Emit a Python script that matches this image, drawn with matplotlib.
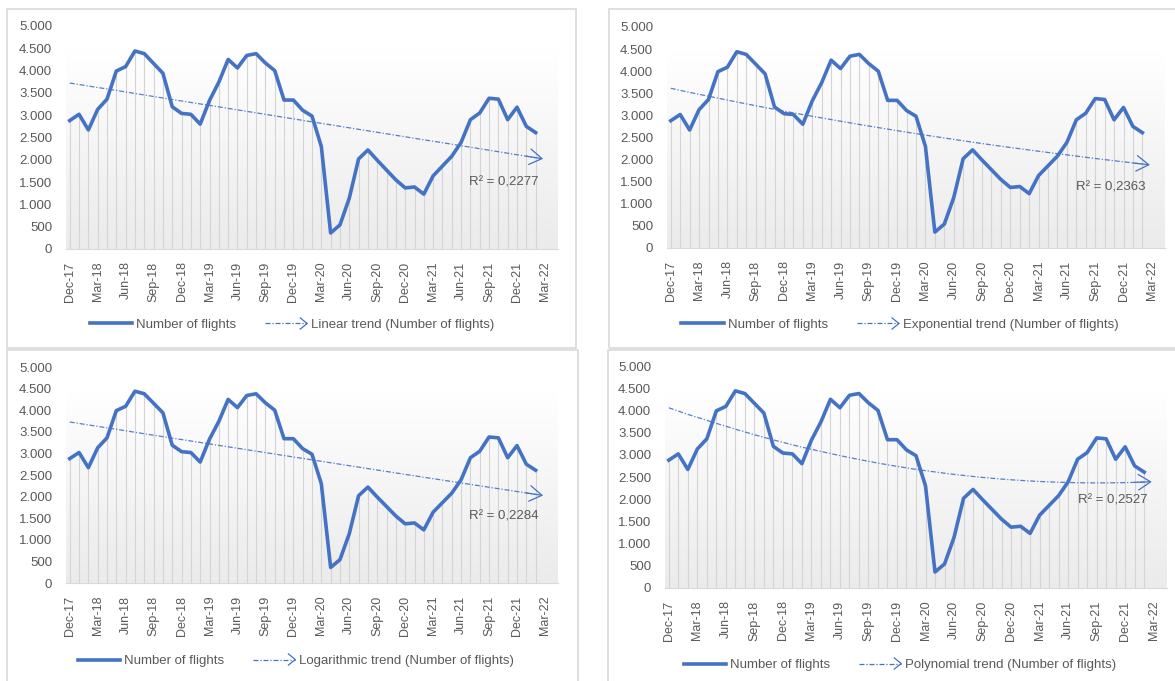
import numpy as np
import pandas as pd
import matplotlib
matplotlib.use('Agg')
import matplotlib.pyplot as plt
from matplotlib.lines import Line2D
from matplotlib.patches import Rectangle
from matplotlib.legend_handler import HandlerBase
from matplotlib.colors import LinearSegmentedColormap
from matplotlib.ticker import FuncFormatter

plt.rcParams['font.family'] = ['Liberation Sans', 'DejaVu Sans']

# monthly number of flights, Dec-17 .. Feb-22
flights = [2880, 3020, 2670, 3130, 3360, 3990, 4090, 4440, 4380, 4160, 3940, 3190,
           3040, 3020, 2800, 3330, 3740, 4250, 4060, 4340, 4380, 4170, 4000, 3340,
           3340, 3110, 2980, 2300, 360, 540, 1140, 2020, 2220, 1990, 1770, 1550,
           1370, 1390, 1230, 1640, 1860, 2080, 2390, 2900, 3050, 3380, 3360, 2900,
           3180, 2750, 2610]
tick_labels = ['Dec-17', 'Mar-18', 'Jun-18', 'Sep-18', 'Dec-18', 'Mar-19', 'Jun-19',
               'Sep-19', 'Dec-19', 'Mar-20', 'Jun-20', 'Sep-20', 'Dec-20', 'Mar-21',
               'Jun-21', 'Sep-21', 'Dec-21', 'Mar-22']
trend_names = ['Linear', 'Exponential', 'Logarithmic', 'Polynomial']
r2_labels = ['R² = 0,2277', 'R² = 0,2363', 'R² = 0,2284', 'R² = 0,2527']

BLUE = '#4472c4'
GRAY_TXT = '#595959'
W, H = 1175, 681

y = np.array(flights, dtype=float)
idx = np.arange(len(y))
# excel uses date serial numbers as x for a date axis
months = pd.date_range('2017-12-01', periods=len(y) + 2, freq='MS')
serial = np.array((months - pd.Timestamp('1899-12-30')).days, dtype=float)
xe = serial[:len(y)]
idx_t = np.linspace(0, len(y) + 0.8 - 1, 200)   # trend incl. forward forecast
xt = np.interp(idx_t, np.arange(len(serial)), serial)


def trend(kind):
    if kind == 'Linear':
        c = np.polyfit(xe, y, 1)
        return np.polyval(c, xt)
    if kind == 'Exponential':
        c = np.polyfit(xe, np.log(y), 1)
        return np.exp(np.polyval(c, xt))
    if kind == 'Logarithmic':
        c = np.polyfit(np.log(xe), y, 1)
        return np.polyval(c, np.log(xt))
    x0 = xe[0]
    c = np.polyfit(xe - x0, y, 2)
    return np.polyval(c, xt - x0)


class ArrowHandler(HandlerBase):
    def create_artists(self, legend, orig_handle, xdescent, ydescent,
                       width, height, fontsize, trans):
        yc = height / 2 - ydescent
        x1 = width - xdescent
        ln = Line2D([-xdescent, x1], [yc, yc], color=BLUE, lw=0.9,
                    dashes=(4, 1.5, 1, 1.5))
        hd = Line2D([x1 - 5, x1, x1 - 5], [yc + 4, yc, yc - 4], color=BLUE, lw=0.9)
        ln.set_transform(trans)
        hd.set_transform(trans)
        return [ln, hd]


def px(l, r, top, bot):
    return [l / W, 1 - bot / H, (r - l) / W, (bot - top) / H]


# axes rects (pixels), panel boxes, legend centers, r2 pos
axes_px = [(66, 558, 26, 249), (667, 1165, 27, 248), (66, 558, 367, 583), (665, 1167, 366, 588)]
boxes = [(7, 9, 576, 348), (609, 9, 1192, 348), (7, 350, 578, 700), (608, 350, 1192, 700)]
leg_c = [(292, 325), (900, 325), (296, 661), (900, 665)]
r2_pos = [(46.6, 1500), (46.6, 1380), (46.6, 1530), (46.7, 1980)]

fig = plt.figure(figsize=(W / 100, H / 100), dpi=100)
cmap = LinearSegmentedColormap.from_list('bg', ['white', '#ebebeb'])

for i, name in enumerate(trend_names):
    bx = boxes[i]
    fig.add_artist(Rectangle((bx[0] / W, 1 - bx[3] / H), (bx[2] - bx[0]) / W,
                             (bx[3] - bx[1]) / H, transform=fig.transFigure,
                             fill=False, edgecolor='#d9d9d9', lw=1.2))
    ax = fig.add_axes(px(*axes_px[i]))
    ax.set_facecolor('white')
    grad = np.linspace(1, 0, 256).reshape(-1, 1)
    ax.imshow(grad, extent=(-0.4, 52.4, 0, 4450), origin='lower', aspect='auto',
              cmap=cmap, zorder=0)
    ax.vlines(idx, 0, y, color='#d4d4d4', lw=0.8, zorder=1)
    ax.plot(idx, y, color=BLUE, lw=2.6, zorder=3, solid_joinstyle='round')
    tv = trend(name)
    ax.plot(idx_t[:-3], tv[:-3], color=BLUE, lw=0.9, dashes=(4, 1.5, 1, 1.5),
            alpha=0.9, zorder=2)
    ax.annotate('', xy=(idx_t[-1], tv[-1]), xytext=(idx_t[-8], tv[-8]),
                arrowprops=dict(arrowstyle='->,head_length=0.55,head_width=0.35',
                                color=BLUE, lw=0.9, mutation_scale=16,
                                shrinkA=0, shrinkB=0), zorder=2)
    ax.text(r2_pos[i][0], r2_pos[i][1], r2_labels[i], ha='center', va='center',
            fontsize=9.5, color=GRAY_TXT)

    ax.set_xlim(-0.4, 52.4)
    ax.set_ylim(0, 5000)
    ax.set_yticks(np.arange(0, 5001, 500))
    ax.yaxis.set_major_formatter(FuncFormatter(lambda v, p: f'{int(v):,}'.replace(',', '.')))
    ax.set_xticks(np.arange(0, 52, 3))
    ax.set_xticklabels(tick_labels, rotation=90)
    ax.tick_params(axis='both', length=0, colors=GRAY_TXT, labelsize=9.5)
    ax.tick_params(axis='y', pad=10)
    ax.tick_params(axis='x', pad=9, labelsize=9)
    for s in ['top', 'right', 'left']:
        ax.spines[s].set_visible(False)
    ax.spines['bottom'].set_color('#d9d9d9')
    ax.spines['bottom'].set_zorder(4)

    h1 = Line2D([], [], color=BLUE, lw=2.6)
    h2 = Line2D([], [], color=BLUE)
    fig.legend([h1, h2], ['Number of flights', f'{name} trend (Number of flights)'],
               handler_map={h2: ArrowHandler()}, loc='center',
               bbox_to_anchor=(leg_c[i][0] / W, 1 - leg_c[i][1] / H), ncol=2,
               frameon=False, fontsize=9.5, labelcolor=GRAY_TXT, handlelength=3.2,
               handletextpad=0.3, columnspacing=2.2)

fig.savefig('out.png', dpi=100, facecolor='white')
